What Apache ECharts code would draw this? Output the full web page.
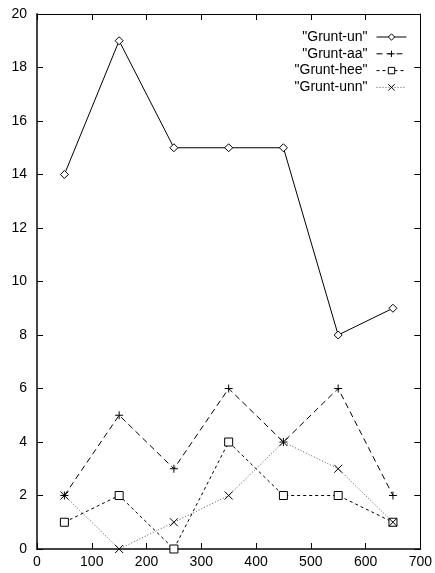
<!DOCTYPE html>
<html><head><meta charset="utf-8">
<script src="https://cdn.jsdelivr.net/npm/echarts@6/dist/echarts.min.js"></script>
<style>html,body{margin:0;padding:0;background:#fff}#c{width:435px;height:573px}</style>
</head><body><div id="c"></div>
<script>
const xValues = [50, 150, 250, 350, 450, 550, 650];
const gruntUn = [14, 19, 15, 15, 15, 8, 9];
const gruntAa = [2, 5, 3, 6, 4, 6, 2];
const gruntHee = [1, 2, 0, 4, 2, 2, 1];
const gruntUnn = [2, 0, 1, 2, 4, 3, 1];
const seriesNames = ['"Grunt-un"', '"Grunt-aa"', '"Grunt-hee"', '"Grunt-unn"'];

const FONT = 'Liberation Sans, Arial, Helvetica, sans-serif';
const pts = arr => xValues.map((x, i) => [x, arr[i]]);
const PLUS = 'path://M5,0L5,10M0,5L10,5';
const CROSS = 'path://M0,0L10,10M10,0L0,10';

const styles = [
  {data: gruntUn, symbol: 'diamond', size: 8, fill: '#fff', z: 5, line: {color: '#000', width: 1, type: 'solid'}},
  {data: gruntAa, symbol: PLUS, size: 8, fill: '#000', z: 4, line: {color: '#000', width: 1, type: [6, 4]}},
  {data: gruntHee, symbol: 'rect', size: 8, fill: '#fff', z: 3, line: {color: '#000', width: 1, type: [3, 3]}},
  {data: gruntUnn, symbol: CROSS, size: 8, fill: '#000', z: 6, line: {color: '#555', width: 1, type: [1, 2]}}
];

const series = styles.map((s, i) => ({
  name: seriesNames[i], type: 'line', data: pts(s.data),
  symbol: s.symbol, symbolSize: s.size, showAllSymbol: true,
  lineStyle: s.line,
  itemStyle: {color: s.fill, borderColor: '#000', borderWidth: 1},
  emphasis: {disabled: true}, animation: false, z: s.z
}));

const legends = seriesNames.map((n, i) => ({
  data: [n], orient: 'vertical', right: 28, top: 30 + i * 16.8,
  padding: 0, itemWidth: 30, itemHeight: 8, align: 'right', itemGap: 0,
  textStyle: {fontFamily: FONT, fontSize: 14, color: '#000', padding: [0, 4, 0, 0]},
  lineStyle: {width: 1, type: 'inherit', color: 'inherit'},
  itemStyle: {borderWidth: 1, borderColor: '#000'},
  selectedMode: false
}));

const axisLineBL = {show: true, onZero: false, lineStyle: {color: '#444', width: 2}};
const axisLineTR = {show: true, onZero: false, lineStyle: {color: '#000', width: 1}};
const tick = {show: true, inside: true, length: 6, lineStyle: {color: '#000', width: 1}};

const chart = echarts.init(document.getElementById('c'), null, {renderer: 'canvas'});
chart.setOption({
  animation: false,
  backgroundColor: '#fff',
  grid: {left: 37, right: 14, top: 14, bottom: 24, containLabel: false},
  legend: legends,
  xAxis: [
    {type: 'value', min: 0, max: 700, interval: 100, position: 'bottom',
     axisLine: axisLineBL, axisTick: tick, splitLine: {show: false},
     axisLabel: {fontFamily: FONT, fontSize: 14, color: '#000', margin: 6}},
    {type: 'value', min: 0, max: 700, interval: 100, position: 'top',
     axisLine: axisLineTR, axisTick: tick, splitLine: {show: false}, axisLabel: {show: false}}
  ],
  yAxis: [
    {type: 'value', min: 0, max: 20, interval: 2, position: 'left',
     axisLine: axisLineBL, axisTick: tick, splitLine: {show: false},
     axisLabel: {fontFamily: FONT, fontSize: 14, color: '#000', margin: 10}},
    {type: 'value', min: 0, max: 20, interval: 2, position: 'right',
     axisLine: axisLineTR, axisTick: tick, splitLine: {show: false}, axisLabel: {show: false}}
  ],
  series: series
});
</script></body></html>
